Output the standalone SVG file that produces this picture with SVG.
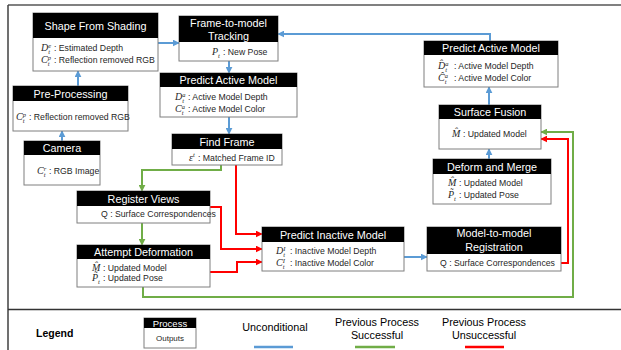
<svg xmlns="http://www.w3.org/2000/svg" width="621" height="350" viewBox="0 0 621 350">
<defs>
<style>
.box{fill:#fff;stroke:#7f7f7f;stroke-width:1}
.hd{fill:#000}
.ht{font-family:"Liberation Sans",Arial,sans-serif;font-size:10.8px;fill:#fff;text-anchor:middle}
.bt{font-family:"Liberation Sans",Arial,sans-serif;font-size:8.7px;fill:#262626}
.mv{font-family:"Liberation Serif","DejaVu Serif",serif;font-style:italic;font-size:10px;fill:#262626}
.sc{font-size:6.5px}
.lg{font-family:"Liberation Sans",Arial,sans-serif;font-size:10.8px;fill:#000;text-anchor:middle}
.b{fill:none;stroke:#5b9bd5;stroke-width:2}
.g{fill:none;stroke:#70ad47;stroke-width:2}
.r{fill:none;stroke:#ff0000;stroke-width:2}
</style>
<marker id="ab" viewBox="0 0 10 10" refX="9" refY="5" markerWidth="7" markerHeight="7" markerUnits="userSpaceOnUse" orient="auto"><path d="M0,0 L10,5 L0,10 z" fill="#5b9bd5"/></marker>
<marker id="ag" viewBox="0 0 10 10" refX="9" refY="5" markerWidth="7" markerHeight="7" markerUnits="userSpaceOnUse" orient="auto"><path d="M0,0 L10,5 L0,10 z" fill="#70ad47"/></marker>
<marker id="ar" viewBox="0 0 10 10" refX="9" refY="5" markerWidth="7" markerHeight="7" markerUnits="userSpaceOnUse" orient="auto"><path d="M0,0 L10,5 L0,10 z" fill="#ff0000"/></marker>
</defs>
<rect width="621" height="350" fill="#fff"/>
<g id="frame">
<line x1="8" y1="5" x2="621" y2="5" stroke="#808080" stroke-width="2"/>
<line x1="8" y1="5" x2="8" y2="350" stroke="#404040" stroke-width="1.5"/>
<line x1="8" y1="309.5" x2="621" y2="309.5" stroke="#333" stroke-width="1.5"/>
</g>
<g id="connectors">
<path class="b" d="M62,141 V131" marker-end="url(#ab)"/>
<path class="b" d="M78,86 V71" marker-end="url(#ab)"/>
<path class="b" d="M158,43 H179" marker-end="url(#ab)"/>
<path class="b" d="M229,61 V73" marker-end="url(#ab)"/>
<path class="b" d="M229,117 V134" marker-end="url(#ab)"/>
<path class="b" d="M490,41 V34 H278" marker-end="url(#ab)"/>
<path class="b" d="M489,105 V87" marker-end="url(#ab)"/>
<path class="b" d="M489,159 V149" marker-end="url(#ab)"/>
<path class="b" d="M404,257 H427" marker-end="url(#ab)"/>
<path class="g" d="M221,165 V170 H142 V191" marker-end="url(#ag)"/>
<path class="g" d="M142,223 V245" marker-end="url(#ag)"/>
<path class="g" d="M143,287 V297 H573 V132 H541" marker-end="url(#ag)"/>
<path class="r" d="M236,165 V234 H262" marker-end="url(#ar)"/>
<path class="r" d="M210,207 H221 V249 H262" marker-end="url(#ar)"/>
<path class="r" d="M210,272 H237 V262 H262" marker-end="url(#ar)"/>
<path class="r" d="M561,263 H568 V139 H541" marker-end="url(#ar)"/>
</g>
<g id="shape-from-shading">
<rect class="box" x="33" y="13" width="125" height="58"/>
<rect class="hd" x="33" y="13" width="125" height="25"/>
<text class="ht" x="95.5" y="29.5">Shape From Shading</text>
<text class="mv" x="41" y="51">D<tspan class="sc" dy="-3.5">e</tspan><tspan class="sc" dx="-3" dy="6">t</tspan></text>
<text class="bt" x="54" y="51">: Estimated Depth</text>
<text class="mv" x="41" y="63">C<tspan class="sc" dy="-3.5">p</tspan><tspan class="sc" dx="-3.2" dy="6">t</tspan></text>
<text class="bt" x="54" y="63">: Reflection removed RGB</text>
</g>
<g id="pre-processing">
<rect class="box" x="13" y="86" width="115" height="45"/>
<rect class="hd" x="13" y="86" width="115" height="15"/>
<text class="ht" x="70.5" y="97.5">Pre-Processing</text>
<text class="mv" x="16" y="120">C<tspan class="sc" dy="-3.5">p</tspan><tspan class="sc" dx="-3.2" dy="6">t</tspan></text>
<text class="bt" x="29" y="120">: Reflection removed RGB</text>
</g>
<g id="camera">
<rect class="box" x="24" y="141" width="76" height="44"/>
<rect class="hd" x="24" y="141" width="76" height="14"/>
<text class="ht" x="62" y="152">Camera</text>
<text class="mv" x="37" y="174">C<tspan class="sc" dy="-3.5">r</tspan><tspan class="sc" dx="-2.5" dy="6">t</tspan></text>
<text class="bt" x="49" y="174">: RGB Image</text>
</g>
<g id="frame-to-model-tracking">
<rect class="box" x="179" y="16" width="99" height="45"/>
<rect class="hd" x="179" y="16" width="99" height="26"/>
<text class="ht" x="228.5" y="27">Frame-to-model</text>
<text class="ht" x="228.5" y="40">Tracking</text>
<text class="mv" x="212" y="55">P<tspan class="sc" dy="2.5">t</tspan></text>
<text class="bt" x="223" y="55">: New Pose</text>
</g>
<g id="predict-active-model">
<rect class="box" x="160" y="73" width="137" height="44"/>
<rect class="hd" x="160" y="73" width="137" height="14"/>
<text class="ht" x="228.5" y="84">Predict Active Model</text>
<text class="mv" x="175" y="100">D<tspan class="sc" dy="-3.5">a</tspan><tspan class="sc" dx="-3.2" dy="6">t</tspan></text>
<text class="bt" x="188" y="100">: Active Model Depth</text>
<text class="mv" x="175" y="112">C<tspan class="sc" dy="-3.5">a</tspan><tspan class="sc" dx="-3.2" dy="6">t</tspan></text>
<text class="bt" x="188" y="112">: Active Model Color</text>
</g>
<g id="find-frame">
<rect class="box" x="172" y="134" width="110" height="31"/>
<rect class="hd" x="172" y="134" width="110" height="15"/>
<text class="ht" x="227" y="145.5">Find Frame</text>
<text class="mv" x="189" y="161">ε<tspan class="sc" dy="-4">t</tspan></text>
<text class="bt" x="198" y="161">: Matched Frame ID</text>
</g>
<g id="register-views">
<rect class="box" x="77" y="191" width="133" height="32"/>
<rect class="hd" x="77" y="191" width="133" height="15"/>
<text class="ht" x="143.5" y="202.5">Register Views</text>
<text class="bt" x="101" y="217">Q : Surface Correspondences</text>
</g>
<g id="attempt-deformation">
<rect class="box" x="77" y="245" width="133" height="42"/>
<rect class="hd" x="77" y="245" width="133" height="14"/>
<text class="ht" x="143.5" y="256">Attempt Deformation</text>
<text class="mv" x="92" y="271">M̂</text>
<text class="bt" x="103" y="271">: Updated Model</text>
<text class="mv" x="92" y="281">P̃<tspan class="sc" dy="2.5">t</tspan></text>
<text class="bt" x="103" y="281">: Updated Pose</text>
</g>
<g id="predict-inactive-model">
<rect class="box" x="262" y="227" width="142" height="44"/>
<rect class="hd" x="262" y="227" width="142" height="15"/>
<text class="ht" x="333" y="238.5">Predict Inactive Model</text>
<text class="mv" x="276" y="254">D<tspan class="sc" dy="-3.5">I</tspan><tspan class="sc" dx="-2.2" dy="6">t</tspan></text>
<text class="bt" x="290" y="254">: Inactive Model Depth</text>
<text class="mv" x="276" y="266">C<tspan class="sc" dy="-3.5">I</tspan><tspan class="sc" dx="-2.2" dy="6">t</tspan></text>
<text class="bt" x="290" y="266">: Inactive Model Color</text>
</g>
<g id="model-to-model-registration">
<rect class="box" x="427" y="227" width="134" height="44"/>
<rect class="hd" x="427" y="227" width="134" height="27"/>
<text class="ht" x="494" y="237">Model-to-model</text>
<text class="ht" x="494" y="251">Registration</text>
<text class="bt" x="440" y="266">Q : Surface Correspondences</text>
</g>
<g id="deform-and-merge">
<rect class="box" x="433" y="159" width="118" height="45"/>
<rect class="hd" x="433" y="159" width="118" height="15"/>
<text class="ht" x="492" y="170.5">Deform and Merge</text>
<text class="mv" x="448" y="186">M̂</text>
<text class="bt" x="459" y="186">: Updated Model</text>
<text class="mv" x="448" y="198">P̃<tspan class="sc" dy="2.5">t</tspan></text>
<text class="bt" x="459" y="198">: Updated Pose</text>
</g>
<g id="surface-fusion">
<rect class="box" x="439" y="105" width="102" height="44"/>
<rect class="hd" x="439" y="105" width="102" height="14"/>
<text class="ht" x="490" y="116">Surface Fusion</text>
<text class="mv" x="452" y="137">M̂</text>
<text class="bt" x="463" y="137">:  Updated Model</text>
</g>
<g id="predict-active-model-2">
<rect class="box" x="424" y="41" width="134" height="46"/>
<rect class="hd" x="424" y="41" width="134" height="14"/>
<text class="ht" x="491" y="52">Predict Active Model</text>
<text class="mv" x="438" y="69">D̂<tspan class="sc" dy="-3.5">a</tspan><tspan class="sc" dx="-3.2" dy="6">t</tspan></text>
<text class="bt" x="454" y="69">:  Active Model Depth</text>
<text class="mv" x="438" y="81">Ĉ<tspan class="sc" dy="-3.5">a</tspan><tspan class="sc" dx="-3.2" dy="6">t</tspan></text>
<text class="bt" x="454" y="81">:  Active Model Color</text>
</g>
<g id="legend">
<text x="36" y="337" font-family="'Liberation Sans',Arial,sans-serif" font-size="10.5" font-weight="bold">Legend</text>
<rect class="box" x="144" y="318" width="52" height="30"/>
<rect class="hd" x="144" y="318" width="52" height="10"/>
<text x="170" y="326.5" font-family="'Liberation Sans',Arial,sans-serif" font-size="9.5" fill="#fff" text-anchor="middle">Process</text>
<text x="170" y="341" font-family="'Liberation Sans',Arial,sans-serif" font-size="8" fill="#262626" text-anchor="middle">Outputs</text>
<text class="lg" x="275" y="331">Unconditional</text>
<line x1="254" y1="347" x2="293" y2="347" stroke="#5b9bd5" stroke-width="2.5"/>
<text class="lg" x="377" y="326">Previous Process</text>
<text class="lg" x="377" y="339">Successful</text>
<line x1="355" y1="347" x2="395" y2="347" stroke="#70ad47" stroke-width="2.5"/>
<text class="lg" x="484" y="326">Previous Process</text>
<text class="lg" x="484" y="339">Unsuccessful</text>
<line x1="465" y1="347" x2="504" y2="347" stroke="#ff0000" stroke-width="2.5"/>
</g>
</svg>
